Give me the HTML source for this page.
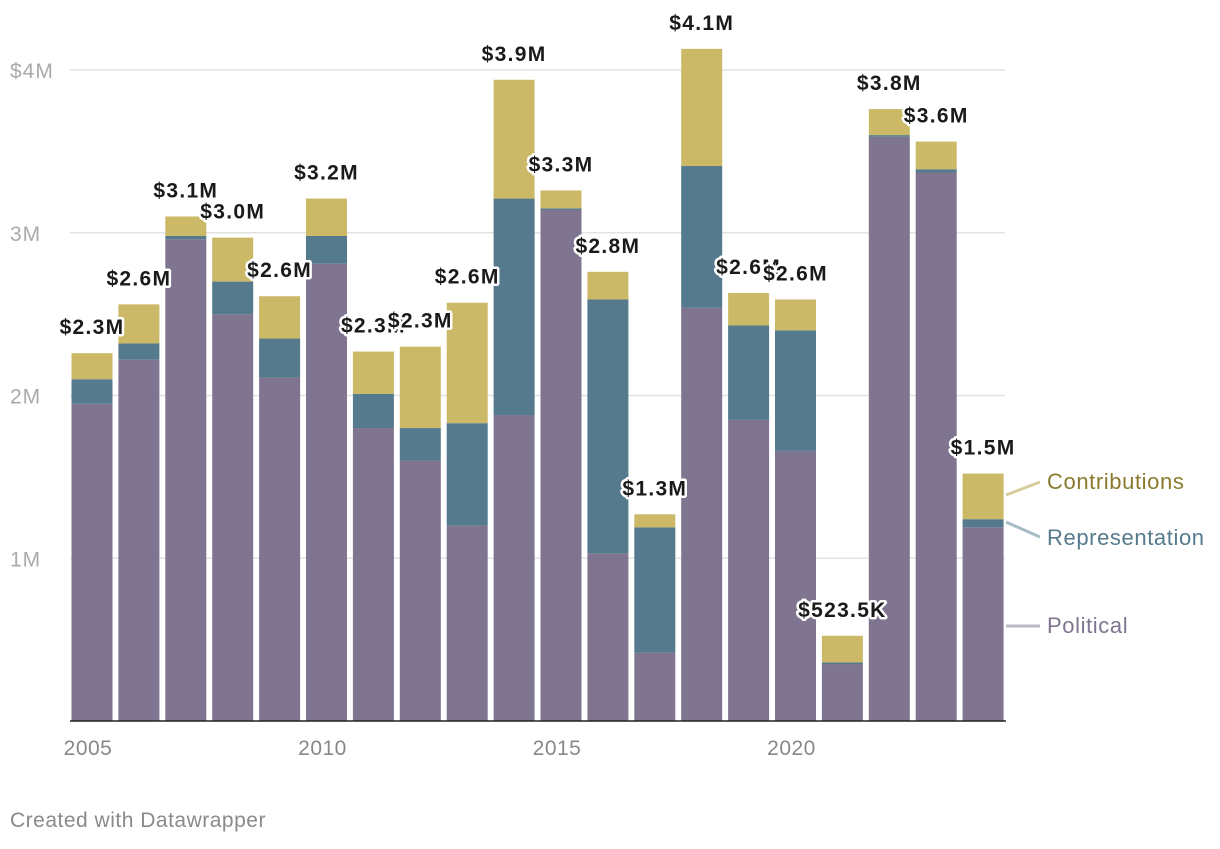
<!DOCTYPE html>
<html><head><meta charset="utf-8">
<style>
html,body{margin:0;padding:0;background:#fff;}
body{width:1220px;height:844px;overflow:hidden;font-family:"Liberation Sans",sans-serif;}
svg text{font-family:"Liberation Sans",sans-serif;}
.vl{font-weight:bold;font-size:21px;letter-spacing:1.3px;fill:#1a1a1a;stroke:#fff;stroke-width:5px;paint-order:stroke;stroke-linejoin:round;}
</style></head>
<body>
<svg id="chart" width="1220" height="844" xmlns="http://www.w3.org/2000/svg">
<g id="grid"></g>
<g id="bars"></g>
<g id="labels"></g>
<g id="xaxis"></g>
<g>
<line x1="1006" y1="495" x2="1040" y2="482" stroke="#d6cc9c" stroke-width="3"/>
<text x="1047" y="489" font-size="22" letter-spacing="0.6" fill="#8a7a2e">Contributions</text>
<line x1="1006" y1="522" x2="1040" y2="537" stroke="#a8bcc6" stroke-width="3"/>
<text x="1047" y="545" font-size="22" letter-spacing="0.6" fill="#557a8d">Representation</text>
<line x1="1006" y1="626" x2="1040" y2="626" stroke="#bdb7c6" stroke-width="3"/>
<text x="1047" y="633" font-size="22" letter-spacing="0.6" fill="#7f7590">Political</text>
</g>
<text x="10" y="827" font-size="21" letter-spacing="0.5" fill="#8a8a8a">Created with Datawrapper</text>
</svg>
<script>
const years=[2005,2006,2007,2008,2009,2010,2011,2012,2013,2014,2015,2016,2017,2018,2019,2020,2021,2022,2023,2024];
const political=[1.95,2.22,2.96,2.50,2.11,2.81,1.80,1.60,1.20,1.88,3.14,1.03,0.42,2.54,1.85,1.66,0.35,3.59,3.37,1.19];
const representation=[0.15,0.10,0.02,0.20,0.24,0.17,0.21,0.20,0.63,1.33,0.01,1.56,0.77,0.87,0.58,0.74,0.01,0.01,0.02,0.05];
const contributions=[0.16,0.24,0.12,0.27,0.26,0.23,0.26,0.50,0.74,0.73,0.11,0.17,0.08,0.72,0.20,0.19,0.1635,0.16,0.17,0.28];
const yTicks=[1,2,3,4];
const yTickLabels=["1M","2M","3M","$4M"];
const xTicks=[2005,2010,2015,2020];

const ns="http://www.w3.org/2000/svg";
const y0=721, pxPerM=162.75;
const y=v=>y0-v*pxPerM;
const x=yr=>92+(yr-2005)*46.9;
const bw=41;
function mk(tag,attrs,parent){const e=document.createElementNS(ns,tag);for(const k in attrs)e.setAttribute(k,attrs[k]);parent.appendChild(e);return e;}
const grid=document.getElementById('grid'),bars=document.getElementById('bars'),labels=document.getElementById('labels'),xaxis=document.getElementById('xaxis');
yTicks.forEach((t,i)=>{
  const l=mk('line',{x1:70,x2:1005,y1:y(t),y2:y(t),stroke:'#e3e3e3','stroke-width':1.5},grid);
  
  
  const tx=mk('text',{x:10,y:y(t)+8,'font-size':21,'letter-spacing':1,fill:'#aaaaaa'},grid);
  tx.textContent=yTickLabels[i];
  
  
});
const cols=['#7f7590','#557a8d','#cbb967'];
years.forEach((yr,i)=>{
  const segs=[political[i],representation[i],contributions[i]];
  let base=0;
  segs.forEach((v,j)=>{
    const r=mk('rect',{x:x(yr)-bw/2,y:y(base+v),width:bw,height:v*pxPerM,fill:cols[j]},bars);
    
    
    base+=v;
  });
  const t=mk('text',{x:x(yr),y:y(base)-19,'text-anchor':'middle','class':'vl'},labels);
  t.textContent=base<1?'$'+(Math.round(base*10000)/10).toFixed(1)+'K':'$'+(Math.round(base*10+1e-9)/10).toFixed(1)+'M';
  
  
});
const ax=mk('line',{x1:70,x2:1006,y1:y0,y2:y0,stroke:'#222','stroke-width':1.5},xaxis);


xTicks.forEach(t=>{
  const tx=mk('text',{x:x(t)-4,y:755,'text-anchor':'middle','font-size':21,'letter-spacing':0.5,fill:'#888'},xaxis);
  tx.textContent=t;
  
  
});
</script>
</body></html>
